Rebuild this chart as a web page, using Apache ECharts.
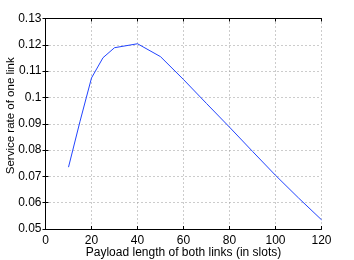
<!DOCTYPE html>
<html><head><meta charset="utf-8">
<script src="https://cdn.jsdelivr.net/npm/echarts@6/dist/echarts.min.js"></script>
<style>html,body{margin:0;padding:0;background:#fff}#c{width:354px;height:260px}</style>
</head><body><div id="c"></div>
<script>
const payload = [10, 15, 20, 25, 30, 40, 50, 60, 70, 80, 90, 100, 110, 120];
const serviceRate = [0.0735, 0.0909, 0.1074, 0.1151, 0.1189, 0.1204, 0.1155, 0.1068, 0.0977, 0.0887, 0.0795, 0.0704, 0.0618, 0.0535];
const xName = 'Payload length of both links (in slots)';
const yName = 'Service rate of one link';

const font = '"Liberation Sans", Arial, Helvetica, sans-serif';
const fs = 12;
const chart = echarts.init(document.getElementById('c'), null, {renderer: 'canvas'});
const axisLineStyle = {color: '#000', width: 1};
const grid = {left: 45.5, right: 32.5, top: 18.5, bottom: 31, containLabel: false, outerBoundsMode: 'none'};
chart.setOption({
  animation: false,
  grid: grid,
  xAxis: [{
    type: 'value', min: 0, max: 120, interval: 20, position: 'bottom',
    name: xName, nameLocation: 'middle', nameGap: 18, nameMoveOverlap: false,
    nameTextStyle: {fontFamily: font, fontSize: fs, color: '#000'},
    axisLine: {show: true, lineStyle: axisLineStyle},
    axisTick: {show: true, inside: true, length: 3, lineStyle: axisLineStyle},
    axisLabel: {fontFamily: font, fontSize: fs, color: '#000', margin: 6},
    splitLine: {show: true, lineStyle: {color: '#999', type: [1, 3], width: 1}}
  }, {
    type: 'value', min: 0, max: 120, interval: 20, position: 'top',
    axisLine: {show: true, lineStyle: axisLineStyle},
    axisTick: {show: true, inside: true, length: 3, lineStyle: axisLineStyle},
    axisLabel: {show: false}, splitLine: {show: false}
  }],
  yAxis: [{
    type: 'value', min: 0.05, max: 0.13, interval: 0.01, position: 'left',
    name: yName, nameLocation: 'middle', nameGap: 29, nameMoveOverlap: false,
    nameTextStyle: {fontFamily: font, fontSize: 11.5, color: '#000', padding: [0, 0, 0, 16]},
    axisLine: {show: true, lineStyle: axisLineStyle},
    axisTick: {show: true, inside: true, length: 3, lineStyle: axisLineStyle},
    axisLabel: {fontFamily: font, fontSize: fs, color: '#000', margin: 4,
      formatter: v => String(parseFloat(v.toFixed(2)))},
    splitLine: {show: true, lineStyle: {color: '#999', type: [1, 3], width: 1}}
  }, {
    type: 'value', min: 0.05, max: 0.13, interval: 0.01, position: 'right',
    axisLine: {show: true, lineStyle: axisLineStyle},
    axisTick: {show: true, inside: true, length: 3, lineStyle: axisLineStyle},
    axisLabel: {show: false}, splitLine: {show: false}
  }],
  series: [{
    type: 'line', xAxisIndex: 0, yAxisIndex: 0,
    data: payload.map((x, i) => [x, serviceRate[i]]),
    showSymbol: false, symbol: 'none',
    lineStyle: {color: '#2244ff', width: 1}
  }]
});
</script></body></html>
